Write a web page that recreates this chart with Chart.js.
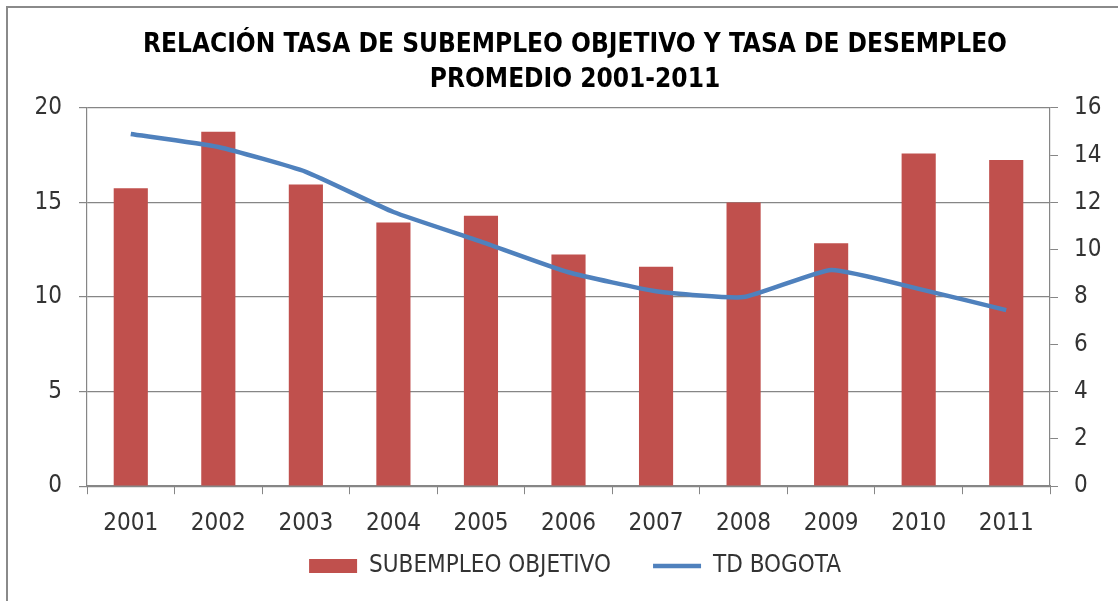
<!DOCTYPE html>
<html>
<head>
<meta charset="utf-8">
<script src="https://cdn.jsdelivr.net/npm/chart.js@4.4.0/dist/chart.umd.min.js"></script>
<style>
  html, body { margin: 0; padding: 0; background: #fff; overflow: hidden; }
  #frame { position: absolute; left: 6px; top: 6px; width: 1200px; height: 700px; border: 2px solid #8a8a8a; box-sizing: border-box; }
  #wrap { position: absolute; left: 0; top: 0; width: 1118px; height: 601px; }
</style>
</head>
<body>
<div id="frame"></div>
<div id="wrap"><canvas id="chart" width="1118" height="601"></canvas></div>
<script>
// ---------- Data ----------
const years = ['2001', '2002', '2003', '2004', '2005', '2006', '2007', '2008', '2009', '2010', '2011'];
const subempleo = [15.75, 18.75, 15.95, 13.95, 14.3, 12.25, 11.6, 15.0, 12.85, 17.6, 17.25];
const tdBogota = [14.9, 14.35, 13.3, 11.6, 10.35, 9.05, 8.25, 8.0, 9.15, 8.35, 7.45];
const leftTicks = [0, 5, 10, 15, 20];
const rightTicks = [0, 2, 4, 6, 8, 10, 12, 14, 16];

const titleLines = ['RELACIÓN TASA DE SUBEMPLEO OBJETIVO Y TASA DE DESEMPLEO', 'PROMEDIO 2001-2011'];

// ---------- Styles ----------
const FONT = "'DejaVu Sans Condensed', 'Liberation Sans Narrow', 'Liberation Sans', sans-serif";
const AXIS = '#868686';
const TEXT = '#333333';

const ctx = document.getElementById('chart').getContext('2d');

new Chart(ctx, {
  data: {
    labels: years,
    datasets: [
      {
        type: 'line',
        label: 'TD BOGOTA',
        data: tdBogota,
        yAxisID: 'y1',
        borderColor: '#4F81BD',
        backgroundColor: '#4F81BD',
        borderWidth: 4.5,
        pointRadius: 0,
        pointStyle: 'line',
        tension: 0.15,
        order: 0
      },
      {
        type: 'bar',
        label: 'SUBEMPLEO OBJETIVO',
        data: subempleo,
        yAxisID: 'y',
        backgroundColor: '#C0504D',
        borderWidth: 0,
        pointStyle: 'rect',
        barPercentage: 0.39,
        categoryPercentage: 1,
        order: 1
      }
    ]
  },
  options: {
    responsive: false,
    animation: false,
    layout: { padding: { left: 34, right: 2, top: 0, bottom: 13 } },
    plugins: {
      title: {
        display: true,
        text: titleLines,
        color: '#000',
        font: { family: FONT, size: 26, weight: 'bold', lineHeight: 1.346 },
        padding: { top: 28, bottom: 10 }
      },
      legend: {
        position: 'bottom',
        reverse: true,
        labels: {
          usePointStyle: true,
          pointStyleWidth: 48,
          boxHeight: 14,
          color: TEXT,
          padding: 1,
          font: { family: FONT, size: 24 },
          // wider gap between the two entries, like the original
          generateLabels: (chart) => {
            const items = Chart.defaults.plugins.legend.labels.generateLabels(chart);
            items.forEach(it => { if (it.datasetIndex === 1) it.text += '      '; });
            return items;
          }
        }
      },
      tooltip: { enabled: false }
    },
    scales: {
      x: {
        offset: true,
        grid: { offset: true, drawOnChartArea: false, color: AXIS, tickLength: 8 },
        border: { color: AXIS, width: 1.5 },
        ticks: { color: TEXT, padding: 15, font: { family: FONT, size: 24 }, maxRotation: 0 },
        afterFit: (s) => { s.paddingLeft = 0; s.paddingRight = 0; }
      },
      y: {
        position: 'left',
        min: 0,
        max: 20,
        afterBuildTicks: (axis) => { axis.ticks = leftTicks.map(v => ({ value: v })); },
        afterFit: (s) => { s.width = 53; },
        grid: { color: AXIS, lineWidth: 1.2, tickLength: 8 },
        border: { color: AXIS, width: 1.2 },
        ticks: { color: TEXT, padding: 17, font: { family: FONT, size: 24 } }
      },
      y1: {
        position: 'right',
        min: 0,
        max: 16,
        afterBuildTicks: (axis) => { axis.ticks = rightTicks.map(v => ({ value: v })); },
        afterFit: (s) => { s.width = 66; },
        grid: { drawOnChartArea: false, color: AXIS, tickLength: 8 },
        border: { color: AXIS, width: 1.2 },
        ticks: { color: TEXT, padding: 16, font: { family: FONT, size: 24 } }
      }
    }
  }
});
</script>
</body>
</html>
